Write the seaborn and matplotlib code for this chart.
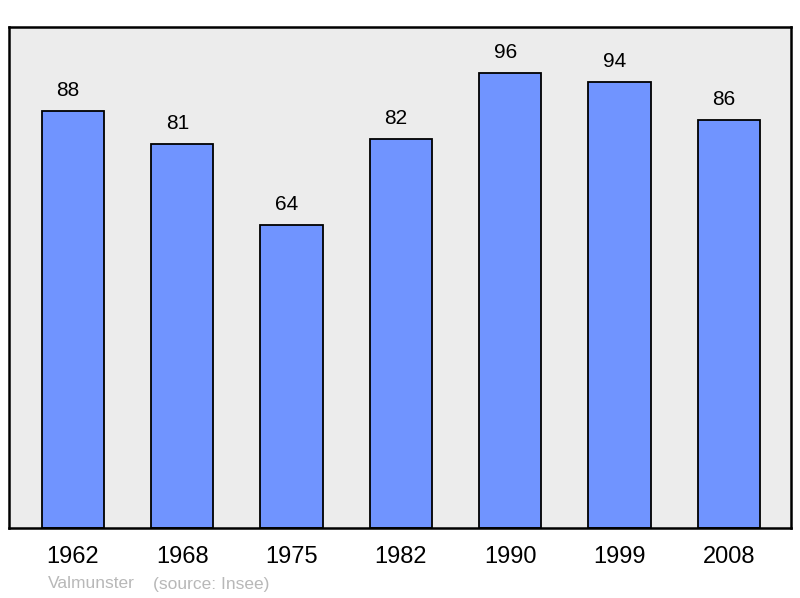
import matplotlib
matplotlib.use("Agg")
import matplotlib.pyplot as plt
import pandas as pd
import seaborn as sns

# --- Data ---
years = ["1962", "1968", "1975", "1982", "1990", "1999", "2008"]
population = [88, 81, 64, 82, 96, 94, 86]
commune = "Valmunster"
source = "(source: Insee)"

df = pd.DataFrame({"annee": years, "pop": population})

sns.set_style("white")
plt.rcParams["font.family"] = ["Liberation Sans", "DejaVu Sans"]

fig = plt.figure(figsize=(8.0, 5.98), dpi=100)
ax = fig.add_axes([9 / 800, 70 / 598, 782 / 800, 501 / 598])
ax.set_facecolor("#ececec")

sns.barplot(data=df, x="annee", y="pop", order=years, color="#7094ff",
            saturation=1, width=0.57, edgecolor="black", linewidth=1.3, ax=ax)

# etiquettes de valeur, un peu decalees a gauche comme l'original
for c in ax.containers:
    anns = ax.bar_label(c, labels=[str(v) for v in population], padding=8,
                        fontsize=15, color="black")
    for a in anns:
        a.xyann = (-3.5, a.xyann[1])

ax.set_xlim(-0.585, 6.57)
ax.set_ylim(0, 105.7)
ax.set_yticks([])
ax.set_xlabel("")
ax.set_ylabel("")
ax.tick_params(axis="x", length=0, labelsize=17, pad=13, labelcolor="black")

for s in ax.spines.values():
    s.set_visible(True)
    s.set_color("black")
    s.set_linewidth(1.8)

fig.text(48 / 800, 1 - 584 / 598, commune, fontsize=12.5, color="#b8b8b8",
         va="center", ha="left")
fig.text(153 / 800, 1 - 584 / 598, source, fontsize=12.5, color="#b8b8b8",
         va="center", ha="left")

fig.savefig("out.png", dpi=100, facecolor="white")
